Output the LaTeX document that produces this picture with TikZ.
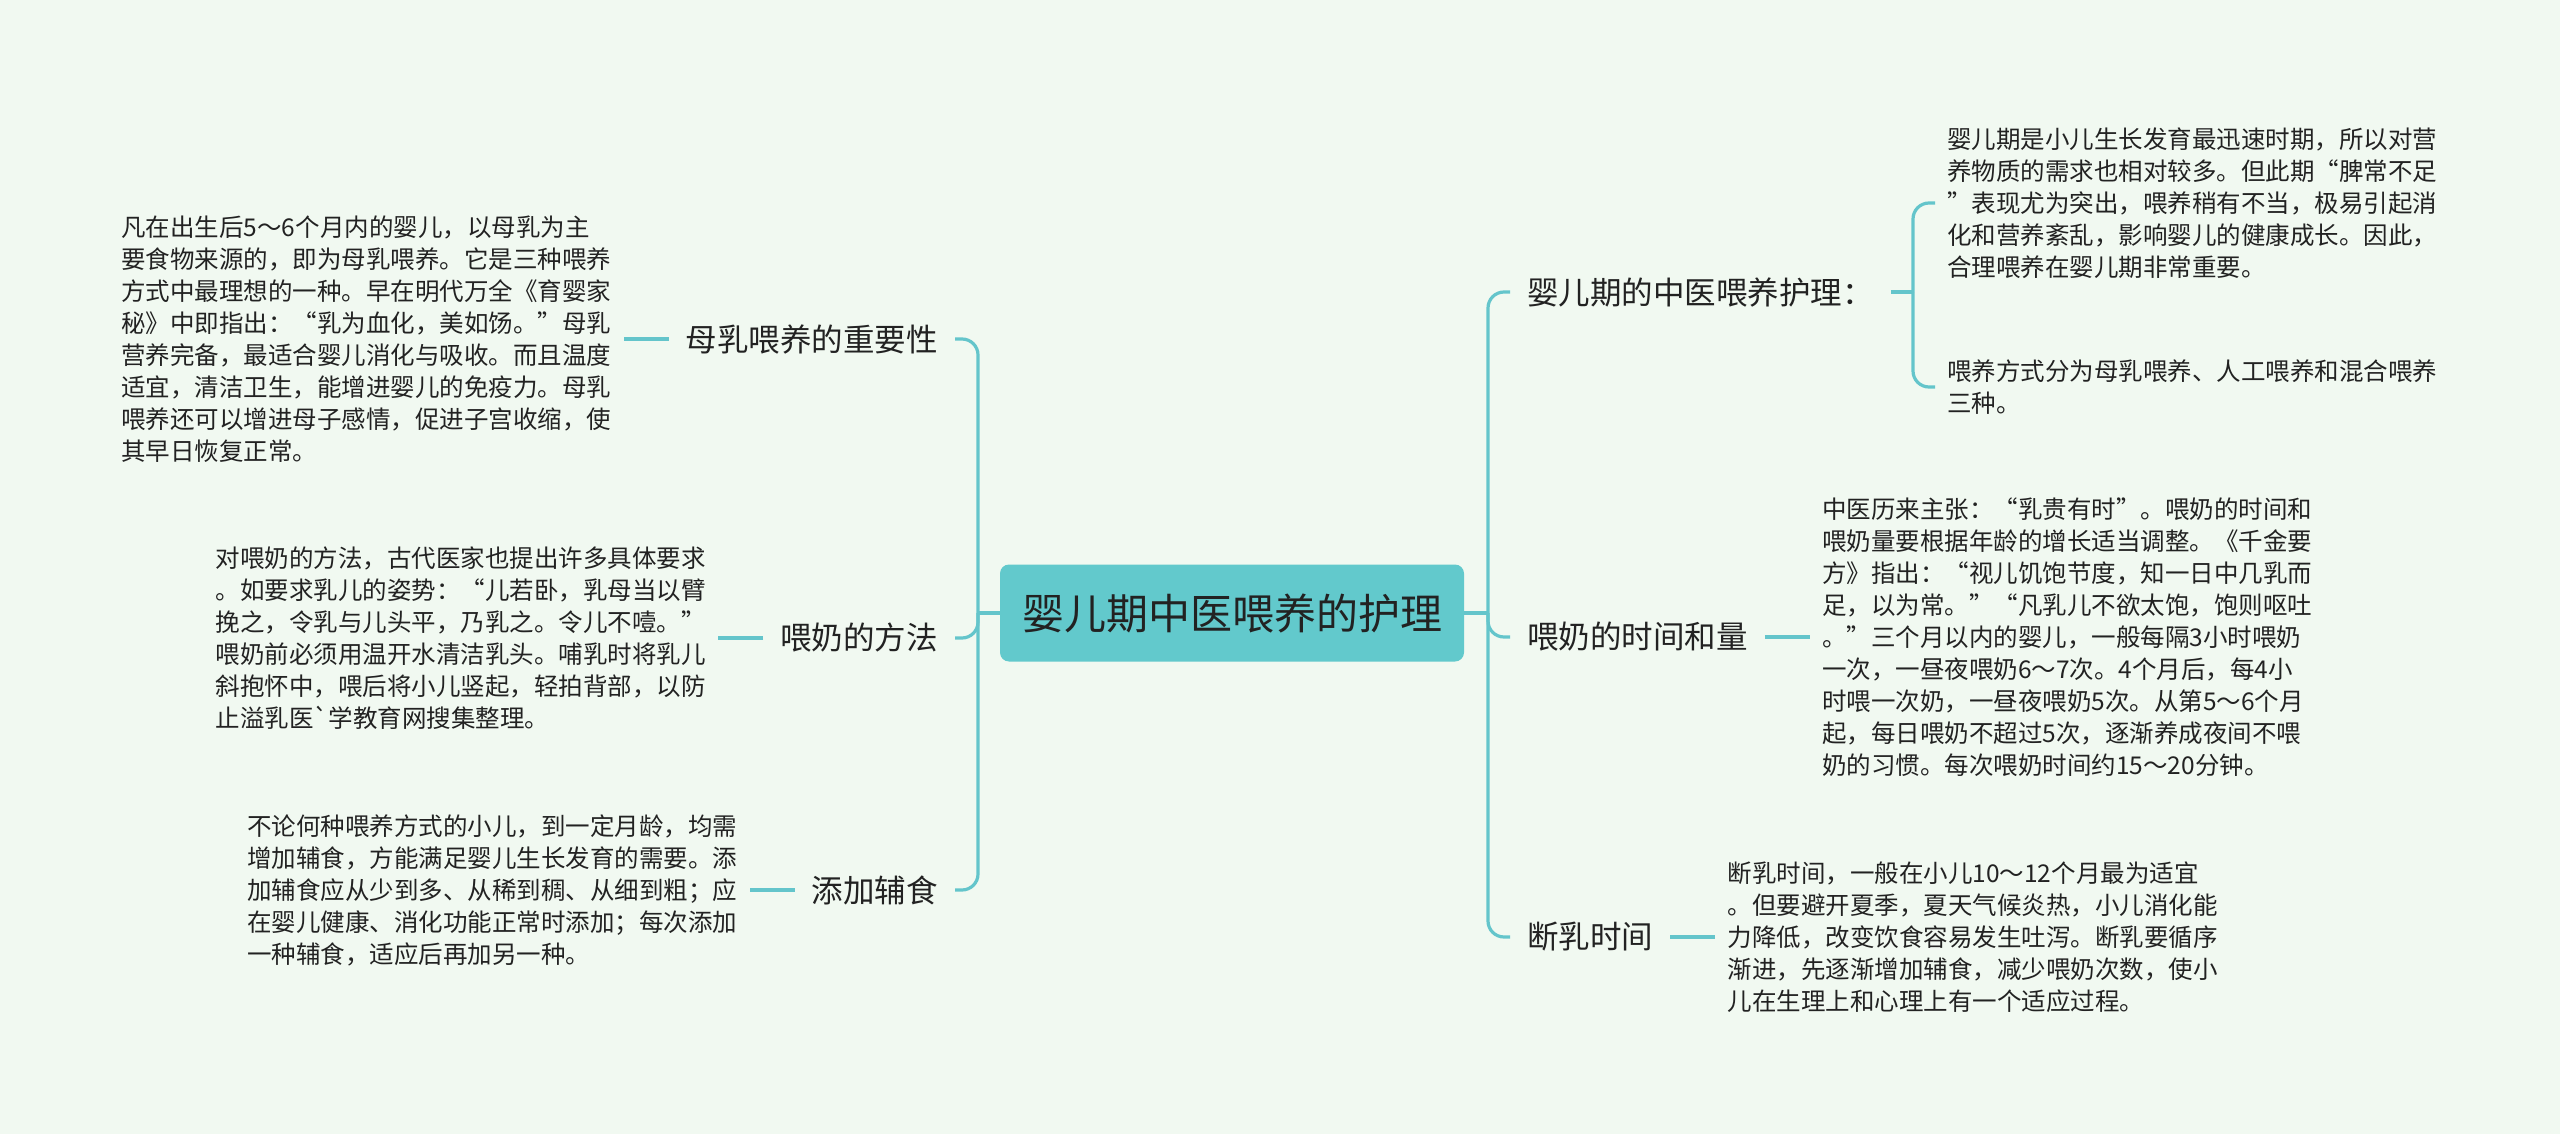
\documentclass[tikz,border=0pt]{standalone}
\usepackage{fontspec}
\setmainfont{Noto Sans CJK SC}
\newfontfamily\plainfont{Noto Sans CJK SC}
\definecolor{bg}{HTML}{F1F9F1}
\definecolor{tealline}{HTML}{64C5CB}
\definecolor{cfill}{HTML}{62C9CC}
\definecolor{txt}{HTML}{222222}
\begin{document}
\begin{tikzpicture}[x=1pt,y=-1pt,
  conn/.style={draw=tealline,line width=3.2pt,rounded corners=16pt},
  leaf/.style={font=\fontsize{24.5}{32}\selectfont,align=left,text=txt,inner xsep=12pt,inner ysep=0pt},
  branch/.style={font=\fontsize{31.5}{38}\selectfont,text=txt,inner xsep=17pt,inner ysep=4pt},
  rootbox/.style={fill=cfill,rounded corners=9pt,minimum width=464pt,minimum height=97pt,
    font=\fontsize{42}{48}\selectfont,text=txt,inner sep=0pt}]
\path[fill=bg] (0,0) rectangle (2560,1134);

\node[rootbox] (root) at (1232,613) {婴儿期中医喂养的护理};

% left branches
\node[branch,anchor=east] (l1) at (955,339) {母乳喂养的重要性};
\node[branch,anchor=east] (l2) at (955,638) {喂奶的方法};
\node[branch,anchor=east] (l3) at (955,890) {添加辅食};

% right branches
\node[branch,anchor=west] (r1) at (1510,292) {婴儿期的中医喂养护理：};
\node[branch,anchor=west] (r2) at (1510,637) {喂奶的时间和量};
\node[branch,anchor=west] (r3) at (1510,937) {断乳时间};

% left leaves
\node[leaf,anchor=east] (t1) at ([xshift=-45pt]l1.west) {凡在出生后5～6个月内的婴儿，以母乳为主\\要食物来源的，即为母乳喂养。它是三种喂养\\方式中最理想的一种。早在明代万全《育婴家\\秘》中即指出：“乳为血化，美如饧。”母乳\\营养完备，最适合婴儿消化与吸收。而且温度\\适宜，清洁卫生，能增进婴儿的免疫力。母乳\\喂养还可以增进母子感情，促进子宫收缩，使\\其早日恢复正常。};
\node[leaf,anchor=east] (t2) at ([xshift=-45pt]l2.west) {对喂奶的方法，古代医家也提出许多具体要求\\。如要求乳儿的姿势：“儿若卧，乳母当以臂\\挽之，令乳与儿头平，乃乳之。令儿不噎。”\\喂奶前必须用温开水清洁乳头。哺乳时将乳儿\\斜抱怀中，喂后将小儿竖起，轻拍背部，以防\\止溢乳医{\plainfont`}学教育网搜集整理。};
\node[leaf,anchor=east] (t3) at ([xshift=-45pt]l3.west) {不论何种喂养方式的小儿，到一定月龄，均需\\增加辅食，方能满足婴儿生长发育的需要。添\\加辅食应从少到多、从稀到稠、从细到粗；应\\在婴儿健康、消化功能正常时添加；每次添加\\一种辅食，适应后再加另一种。};

% right leaves
\coordinate (sb) at (1913,292);
\node[leaf,anchor=west] (t4) at (1935,203) {婴儿期是小儿生长发育最迅速时期，所以对营\\养物质的需求也相对较多。但此期“脾常不足\\”表现尤为突出，喂养稍有不当，极易引起消\\化和营养紊乱，影响婴儿的健康成长。因此，\\合理喂养在婴儿期非常重要。};
\node[leaf,anchor=west] (t5) at (1935,387) {喂养方式分为母乳喂养、人工喂养和混合喂养\\三种。};
\node[leaf,anchor=west] (t6) at ([xshift=45pt]r2.east) {中医历来主张：“乳贵有时”。喂奶的时间和\\喂奶量要根据年龄的增长适当调整。《千金要\\方》指出：“视儿饥饱节度，知一日中几乳而\\足，以为常。”“凡乳儿不欲太饱，饱则呕吐\\。”三个月以内的婴儿，一般每隔3小时喂奶\\一次，一昼夜喂奶6～7次。4个月后，每4小\\时喂一次奶，一昼夜喂奶5次。从第5～6个月\\起，每日喂奶不超过5次，逐渐养成夜间不喂\\奶的习惯。每次喂奶时间约15～20分钟。};
\node[leaf,anchor=west] (t7) at ([xshift=45pt]r3.east) {断乳时间，一般在小儿10～12个月最为适宜\\。但要避开夏季，夏天气候炎热，小儿消化能\\力降低，改变饮食容易发生吐泻。断乳要循序\\渐进，先逐渐增加辅食，减少喂奶次数，使小\\儿在生理上和心理上有一个适应过程。};

% connectors
\coordinate (lj) at (978,613);
\coordinate (rj) at (1488,613);
\draw[conn] (root.west) -- (lj);
\draw[conn] (lj) -- (lj |- l1.east) -- (l1.east);
\draw[conn] (lj) -- (lj |- l2.east) -- (l2.east);
\draw[conn] (lj) -- (lj |- l3.east) -- (l3.east);
\draw[conn] (root.east) -- (rj);
\draw[conn] (rj) -- (rj |- r1.west) -- (r1.west);
\draw[conn] (rj) -- (rj |- r2.west) -- (r2.west);
\draw[conn] (rj) -- (rj |- r3.west) -- (r3.west);

\draw[conn] (l1.west) -- (t1.east);
\draw[conn] (l2.west) -- (t2.east);
\draw[conn] (l3.west) -- (t3.east);
\draw[conn] (r2.east) -- (t6.west);
\draw[conn] (r3.east) -- (t7.west);
\draw[conn] (r1.east) -- (sb);
\draw[conn] (sb) -- (sb |- t4.west) -- (t4.west);
\draw[conn] (sb) -- (sb |- t5.west) -- (t5.west);
\end{tikzpicture}
\end{document}
